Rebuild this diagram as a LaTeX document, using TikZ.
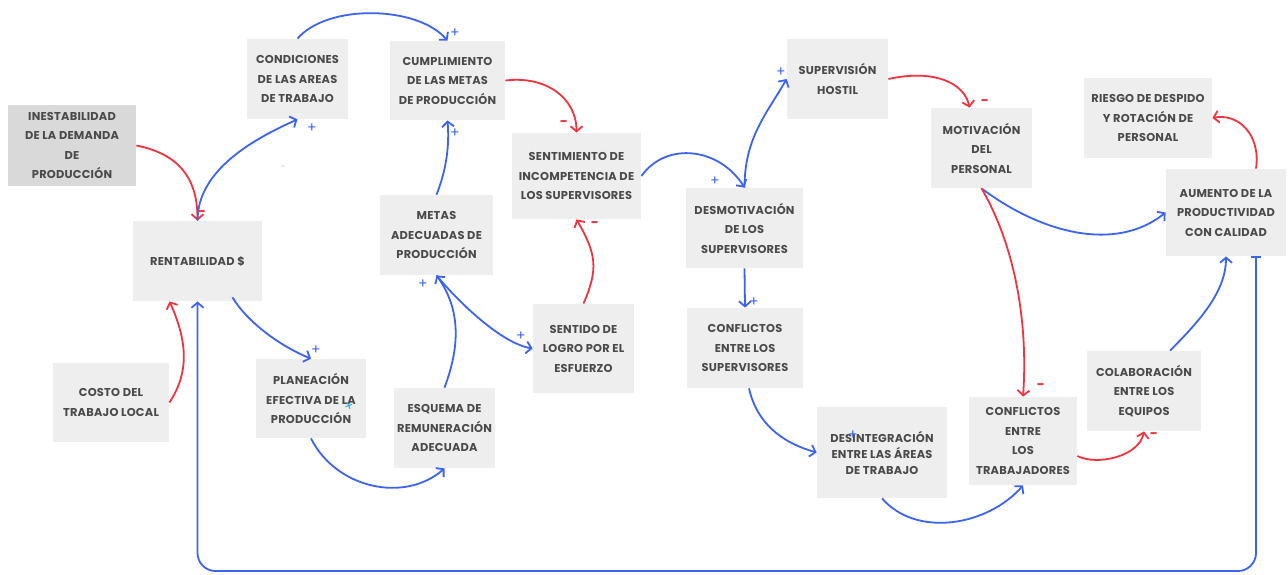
\documentclass[tikz,border=0pt]{standalone}
\usepackage{fontspec}
\setmainfont{Poppins}[LetterSpace=2]
\usetikzlibrary{arrows.meta,calc}
\definecolor{bl}{HTML}{3B63F2}
\definecolor{rd}{HTML}{F2333E}
\definecolor{bx}{HTML}{EEEEEE}
\definecolor{bxd}{HTML}{D9D9D9}
\definecolor{tx}{HTML}{4A4A4A}
\definecolor{cy}{HTML}{22A8E8}
\begin{document}
\begin{tikzpicture}[x=0.5pt,y=-0.5pt,
  box/.style={fill=bx,inner sep=0pt,align=center,text=tx,font=\fontsize{5.7}{9.75}\selectfont\bfseries},
  tip/.style={-{Straight Barb[length=2.6pt,width=6pt,line width=0.9pt]}},
  bar/.style={draw=bl,line width=0.9pt,tip},
  rar/.style={draw=rd,line width=0.9pt,tip},
  pl/.style={text=bl,inner sep=0pt,font=\fontsize{7}{7}\selectfont},
  mi/.style={text=rd,inner sep=0pt,font=\fontsize{7}{7}\selectfont\bfseries}]
\useasboundingbox (0,0) rectangle (1288,574);
% nodes
\node[box,fill=bxd,minimum width=64pt,minimum height=40.5pt] (ines) at (72,145.5) {INESTABILIDAD\\DE LA DEMANDA\\DE\\PRODUCCIÓN};
\node[box,minimum width=50.5pt,minimum height=40pt] (cond) at (297.5,79) {CONDICIONES\\DE LAS AREAS\\DE TRABAJO};
\node[box,minimum width=57.5pt,minimum height=39.5pt] (cump) at (447.5,80.5) {CUMPLIMIENTO\\DE LAS METAS\\DE PRODUCCIÓN};
\node[box,minimum width=64.5pt,minimum height=43pt] (sent) at (576.5,176) {SENTIMIENTO DE\\INCOMPETENCIA DE\\LOS SUPERVISORES};
\node[box,minimum width=50.5pt,minimum height=40pt] (supH) at (837.5,79) {SUPERVISIÓN\\HOSTIL};
\node[box,minimum width=50.5pt,minimum height=40pt] (motiv) at (981.5,148) {MOTIVACIÓN\\DEL\\PERSONAL};
\node[box,minimum width=64pt,minimum height=40pt] (riesgo) at (1148,118) {RIESGO DE DESPIDO\\Y ROTACIÓN DE\\PERSONAL};
\node[box,minimum width=60pt,minimum height=43.5pt] (aum) at (1226,212.5) {AUMENTO DE LA\\PRODUCTIVIDAD\\CON CALIDAD};
\node[box,minimum width=64.5pt,minimum height=40pt] (rent) at (197.5,261) {RENTABILIDAD \$};
\node[box,minimum width=56.5pt,minimum height=40pt] (metas) at (436.5,235) {METAS\\ADECUADAS DE\\PRODUCCIÓN};
\node[box,minimum width=58.5pt,minimum height=40pt] (desm) at (744.5,228) {DESMOTIVACIÓN\\DE LOS\\SUPERVISORES};
\node[box,minimum width=58pt,minimum height=39.5pt] (costo) at (111,402.5) {COSTO DEL\\TRABAJO LOCAL};
\node[box,minimum width=55pt,minimum height=39.5pt] (plan) at (311,398.5) {PLANEACIÓN\\EFECTIVA DE LA\\PRODUCCIÓN};
\node[box,minimum width=50.5pt,minimum height=40pt] (esq) at (444.5,428) {ESQUEMA DE\\REMUNERACIÓN\\ADECUADA};
\node[box,minimum width=50.5pt,minimum height=44.5pt] (logro) at (583.5,348.5) {SENTIDO DE\\LOGRO POR EL\\ESFUERZO};
\node[box,minimum width=58pt,minimum height=40pt] (confS) at (745,348) {CONFLICTOS\\ENTRE LOS\\SUPERVISORES};
\node[box,minimum width=65pt,minimum height=45.5pt,font=\fontsize{5.7}{8}\selectfont\bfseries] (desint) at (882,452.5) {DESINTEGRACIÓN\\ENTRE LAS ÁREAS\\DE TRABAJO};
\node[box,minimum width=54pt,minimum height=44pt] (confT) at (1023,441) {CONFLICTOS\\ENTRE\\LOS\\TRABAJADORES};
\node[box,minimum width=57pt,minimum height=40pt] (colab) at (1144,391) {COLABORACIÓN\\ENTRE LOS\\EQUIPOS};
% connectors
\draw[rar] (ines.east) .. controls +(40,8) and +(0,-45) .. (rent.north);
\draw[bar] (rent.north) .. controls +(0,-50) and +(-45,20) .. (cond.south);
\draw[bar] (cond.north) .. controls +(30,-35) and +(-30,-35) .. (cump.north);
\draw[rar] (cump.east) .. controls +(40,-5) and +(0,-35) .. (sent.north);
\draw[bar] (sent.east) .. controls +(25,-35) and +(-25,-40) .. (desm.north);
\draw[bar] (desm.north) .. controls +(0,-50) and +(-20,35) .. (supH.west);
\draw[rar] (supH.east) .. controls +(45,-10) and +(-5,-25) .. ($(motiv.north)+(-12,0)$);
\draw[bar] (motiv.south) .. controls +(60,45) and +(-50,40) .. (aum.west);
\draw[rar] (motiv.south) .. controls +(35,60) and +(5,-70) .. (confT.north);
\draw[rar] ($(confT.east)+(0,15)$) .. controls +(20,10) and +(-5,25) .. (colab.south);
\draw[bar] ($(colab.north)+(26,0)$) .. controls +(30,-30) and +(0,35) .. (aum.south);
\draw[rar] ($(aum.north)+(30,0)$) .. controls +(5,-35) and +(25,-5) .. (riesgo.east);
\draw[bar] ($(rent.south)+(35,-4)$) .. controls +(15,25) and +(-30,-12) .. (plan.north);
\draw[bar] (plan.south) .. controls +(25,50) and +(-40,35) .. (esq.south);
\draw[bar] (esq.north) .. controls +(15,-40) and +(25,35) .. (metas.south);
\draw[bar] (metas.south) .. controls +(25,30) and +(-30,-5) .. (logro.west);
\draw[bar] (metas.north) .. controls +(10,-25) and +(2,25) .. (cump.south);
\draw[rar] (logro.north) .. controls +(15,-35) and +(20,35) .. (sent.south);
\draw[bar] (desm.south) -- (confS.north);
\draw[bar] ($(confS.south)+(4,0)$) .. controls +(8,35) and +(-35,-10) .. (desint.west);
\draw[bar] (desint.south) .. controls +(35,40) and +(-35,40) .. (confT.south);
\draw[rar] (costo.east) .. controls +(20,-30) and +(18,40) .. ($(rent.south)+(-28,0)$);
% feedback loop
\coordinate (fs) at ($(aum.south)+(30,0)$);
\coordinate (fb) at (0,571);
\draw[draw=bl,line width=0.9pt,rounded corners=9pt,{Bar[width=5pt,line width=0.9pt]}-{Straight Barb[length=2.6pt,width=6pt,line width=0.9pt]}]
  (fs) -- (fs |- fb) -- (rent.south |- fb) -- (rent.south);
% signs
\node[pl] (p1) at (312,128) {+};
\node[pl] (p2) at (455,33) {+};
\node[pl] (p3) at (715,181) {+};
\node[pl] (p4) at (781,72) {+};
\node[pl] (p5) at (316,350) {+};
\node[pl] (p6) at (423,284) {+};
\node[pl] (p7) at (521,336) {+};
\node[pl] (p8) at (455,133) {+};
\node[pl] (p9) at (754,302) {+};
\node[pl] (p10) at (853,435) {+};
\node[pl,text=cy,rotate=20] (p11) at (349,407) {+};
\node[mi] (m1) at (564,124) {-};
\node[mi] (m2) at (985,103) {-};
\node[mi] (m3) at (1041,387) {-};
\node[mi] (m4) at (1154,436) {-};
\node[mi] (m5) at (595,225) {-};
\node[mi] (m6) at (202,214) {-};
\node[mi,text=gray!60,font=\fontsize{4}{4}\selectfont] (m7) at (283,168) {-};
\end{tikzpicture}
\end{document}
